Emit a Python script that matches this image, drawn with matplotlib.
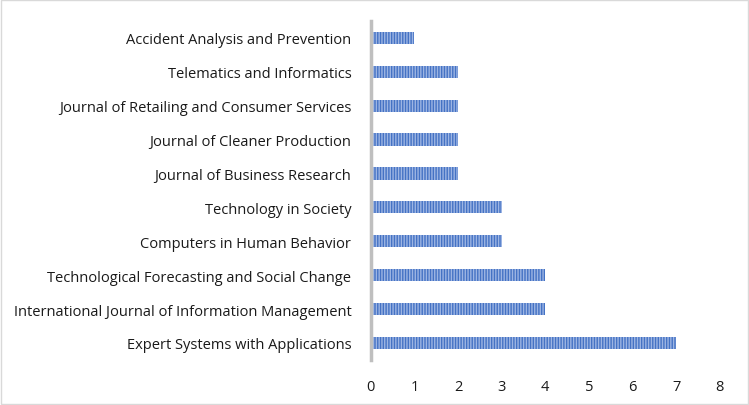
import matplotlib
matplotlib.use("Agg")
import matplotlib.pyplot as plt
from matplotlib.patches import Rectangle

journals = [
    "Expert Systems with Applications",
    "International Journal of Information Management",
    "Technological Forecasting and Social Change",
    "Computers in Human Behavior",
    "Technology in Society",
    "Journal of Business Research",
    "Journal of Cleaner Production",
    "Journal of Retailing and Consumer Services",
    "Telematics and Informatics",
    "Accident Analysis and Prevention",
]
counts = [7, 4, 4, 3, 3, 2, 2, 2, 2, 1]
x_ticks = [0, 1, 2, 3, 4, 5, 6, 7, 8]

plt.rcParams['font.family'] = ['Open Sans', 'DejaVu Sans']
plt.rcParams['hatch.linewidth'] = 1.0
plt.rcParams['hatch.color'] = '#9DB5E3'

fig = plt.figure(figsize=(7.49, 4.06), dpi=100)
ax = fig.add_axes([0.495, 0.111, 0.466, 0.835])

ax.barh(range(len(journals)), counts, height=0.36, color='#4472C4',
        edgecolor='#9DB5E3', linewidth=0, hatch='||||||')

ax.set_yticks(range(len(journals)))
ax.set_yticklabels(journals, fontsize=10.5, color='#1a1a1a')
ax.set_xticks(x_ticks)
ax.set_xticklabels([str(t) for t in x_ticks], fontsize=10.5, color='#1a1a1a')
ax.set_xlim(0, 8)
ax.set_ylim(-0.5, len(journals) - 0.5)
ax.tick_params(axis='both', length=0)
ax.tick_params(axis='y', pad=14)
ax.tick_params(axis='x', pad=14)

for s in ['top', 'right', 'bottom']:
    ax.spines[s].set_visible(False)
ax.spines['left'].set_color('#BFBFBF')
ax.spines['left'].set_linewidth(2.5)

fig.patches.append(Rectangle((0.002, 0.003), 0.996, 0.994, transform=fig.transFigure,
                             fill=False, edgecolor='#D9D9D9', linewidth=1.0))

fig.savefig('out.png', dpi=100)
